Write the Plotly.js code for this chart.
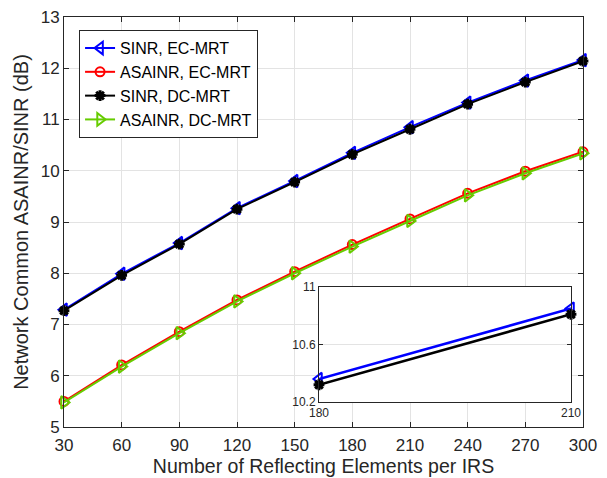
<!DOCTYPE html>
<html>
<head>
<meta charset="utf-8">
<script src="https://cdn.plot.ly/plotly-3.0.1.min.js"></script>
<style>html,body{margin:0;padding:0;background:#fff;}#chart{width:607px;height:478px;}</style>
</head>
<body>
<div id="chart"></div>
<script>
const elements = [30, 60, 90, 120, 150, 180, 210, 240, 270, 300];
const sinrEC   = [7.29, 7.99, 8.59, 9.27, 9.80, 10.35, 10.85, 11.33, 11.76, 12.16];
const asainrEC = [5.50, 6.21, 6.86, 7.48, 8.03, 8.56, 9.06, 9.56, 9.99, 10.37];
const sinrDC   = [7.27, 7.96, 8.57, 9.25, 9.78, 10.32, 10.81, 11.30, 11.73, 12.14];
const asainrDC = [5.48, 6.18, 6.83, 7.45, 8.00, 8.52, 9.02, 9.52, 9.95, 10.34];
const insetX = [180, 210];
const insetSinrEC = [10.36, 10.85];
const insetSinrDC = [10.32, 10.81];
const names = ['SINR, EC-MRT', 'ASAINR, EC-MRT', 'SINR, DC-MRT', 'ASAINR, DC-MRT'];

const blue = '#0000ff', red = '#ff0000', black = '#000000', green = '#66cc00';
const axc = '#262626';
const font = 'Liberation Sans, Arial, sans-serif';

const traces = [
  {x: elements, y: sinrEC, name: names[0], mode: 'lines+markers', line: {color: blue, width: 2},
   marker: {symbol: 'triangle-left-open', size: 11, color: blue, line: {width: 2, color: blue}}, cliponaxis: false},
  {x: elements, y: asainrEC, name: names[1], mode: 'lines+markers', line: {color: red, width: 2},
   marker: {symbol: 'circle-open', size: 9, color: red, line: {width: 2, color: red}}, cliponaxis: false},
  {x: elements, y: sinrDC, name: names[2], mode: 'lines+markers', line: {color: black, width: 2},
   marker: {symbol: 'asterisk-open', size: 9, color: black, line: {width: 3, color: black}}, cliponaxis: false},
  {x: elements, y: asainrDC, name: names[3], mode: 'lines+markers', line: {color: green, width: 2},
   marker: {symbol: 'triangle-right-open', size: 11, color: green, line: {width: 2, color: green}}, cliponaxis: false},
  {x: insetX, y: insetSinrEC, xaxis: 'x2', yaxis: 'y2', showlegend: false, mode: 'lines+markers',
   line: {color: blue, width: 2.5}, marker: {symbol: 'triangle-left-open', size: 11, color: blue, line: {width: 2, color: blue}}, cliponaxis: false},
  {x: insetX, y: insetSinrDC, xaxis: 'x2', yaxis: 'y2', showlegend: false, mode: 'lines+markers',
   line: {color: black, width: 2.5}, marker: {symbol: 'asterisk-open', size: 9, color: black, line: {width: 3, color: black}}, cliponaxis: false}
];

const baseAxis = {
  showline: true, linecolor: axc, linewidth: 1, mirror: 'ticks', ticks: 'inside', ticklen: 5,
  tickcolor: axc, showgrid: true, gridcolor: '#e3e3e3', zeroline: false,
  tickfont: {family: font, size: 17, color: axc}
};

const layout = {
  width: 607, height: 478,
  margin: {l: 64, r: 24, t: 17, b: 51},
  paper_bgcolor: '#ffffff', plot_bgcolor: '#ffffff',
  font: {family: font, color: axc},
  xaxis: Object.assign({}, baseAxis, {
    range: [30, 300], tickvals: [30, 60, 90, 120, 150, 180, 210, 240, 270, 300],
    domain: [0, 1], anchor: 'y', ticklabelstandoff: 3,
    title: {text: 'Number of Reflecting Elements per IRS', font: {family: font, size: 19.5, color: axc}, standoff: 2}
  }),
  yaxis: Object.assign({}, baseAxis, {
    range: [5, 13], tickvals: [5, 6, 7, 8, 9, 10, 11, 12, 13],
    domain: [0, 1], anchor: 'x',
    title: {text: 'Network Common ASAINR/SINR (dB)', font: {family: font, size: 20, color: axc}, standoff: 6}
  }),
  xaxis2: Object.assign({}, baseAxis, {
    range: [180, 210], tickvals: [180, 210], domain: [0.4913, 0.9769], anchor: 'y2',
    showgrid: false, tickfont: {family: font, size: 12, color: axc}, ticklen: 4
  }),
  yaxis2: Object.assign({}, baseAxis, {
    range: [10.2, 11], tickvals: [10.2, 10.6, 11], ticktext: ['10.2', '10.6', '11'],
    domain: [0.061, 0.3415], anchor: 'x2',
    tickfont: {family: font, size: 12, color: axc}, ticklen: 4
  }),
  showlegend: true,
  legend: {
    x: 0.029, y: 0.968, xanchor: 'left', yanchor: 'top',
    bgcolor: '#ffffff', bordercolor: axc, borderwidth: 1,
    font: {family: font, size: 16, color: '#000000'},
    tracegroupgap: 0, itemwidth: 30
  }
};

Plotly.newPlot('chart', traces, layout, {displayModeBar: false, staticPlot: true});
</script>
</body>
</html>
